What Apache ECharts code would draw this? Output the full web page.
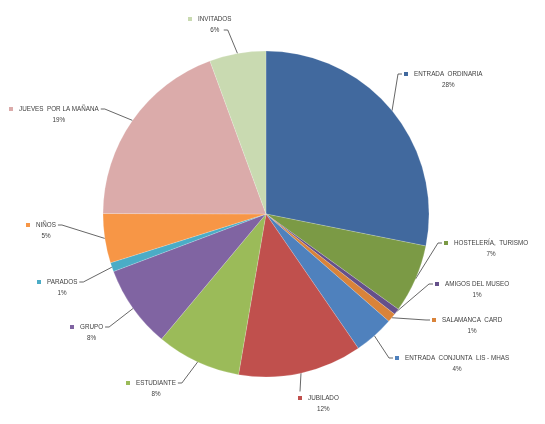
<!DOCTYPE html>
<html>
<head>
<meta charset="utf-8">
<script src="https://cdn.jsdelivr.net/npm/echarts@6/dist/echarts.min.js"></script>
<style>
  html, body { margin: 0; padding: 0; background: #fff; }
  #chart { width: 545px; height: 424px; }
</style>
</head>
<body>
<div id="chart"></div>
<script>
// categorías y valores (porcentaje)
const names = [
    'ENTRADA  ORDINARIA', 'HOSTELERÍA,  TURISMO', 'AMIGOS DEL MUSEO', 'SALAMANCA  CARD',
    'ENTRADA  CONJUNTA  LIS - MHAS', 'JUBILADO', 'ESTUDIANTE', 'GRUPO',
    'PARADOS', 'NIÑOS', 'JUEVES  POR LA MAÑANA', 'INVITADOS'
];
const values = [28.2, 6.8, 0.6, 0.9, 4.0, 12.3, 8.4, 8.2, 0.9, 4.9, 19.4, 5.6];
const colors = [
    '#41699E', '#7B9A45', '#65508A', '#D9833A',
    '#4F81BD', '#C0504D', '#9BBB59', '#8064A2',
    '#4BACC6', '#F79646', '#DBABAA', '#C9DAB1'
];

// posición de cada etiqueta: [izquierda del marcador, centro de la primera línea]
const labelAt = [
    [404, 74], [444, 243], [435, 284], [432, 320],
    [395, 358], [298, 398], [126, 383], [70, 327],
    [37, 282], [26, 225], [9, 109], [188, 19]
];
// lado por donde entra la línea guía
const labelSide = ['l', 'l', 'l', 'l', 'l', 't', 'r', 'r', 'r', 'r', 'r', 'r2'];

const total = values.reduce((a, b) => a + b, 0);
const labelFont = 'Arial, "Liberation Sans", sans-serif';

let data = names.map((n, i) => ({
    name: n,
    value: values[i],
    itemStyle: { color: colors[i] },
    label: { rich: { m: { width: 4, height: 4, backgroundColor: colors[i] } } }
}));

let myChart = echarts.init(document.getElementById('chart'), null, { renderer: 'canvas' });

let options = {
    backgroundColor: '#ffffff',
    animation: false,
    series: [
        {
            type: 'pie',
            center: [266, 214],
            radius: 163,
            startAngle: 90,
            clockwise: true,
            avoidLabelOverlap: false,
            data: data,
            itemStyle: { borderColor: 'rgba(255,255,255,0.35)', borderWidth: 0.5 },
            label: {
                show: true,
                position: 'outside',
                formatter: function (p) {
                    let pct = Math.round(p.value / total * 100);
                    return '{m|}{g|}{n|' + p.name + '}\n{p|' + pct + '%}';
                },
                rich: {
                    g: { width: 6, height: 4 },
                    n: {
                        fontFamily: labelFont,
                        fontSize: 6.3, color: '#404040', lineHeight: 11, align: 'left'
                    },
                    p: {
                        fontFamily: labelFont,
                        fontSize: 6.3, color: '#404040', lineHeight: 11, align: 'center',
                        padding: [0, 0, 0, 10]
                    }
                }
            },
            labelLine: {
                show: true,
                length: 5,
                length2: 5,
                lineStyle: { color: '#404040', width: 0.8 }
            },
            labelLayout: function (params) {
                let i = params.dataIndex;
                let lx = labelAt[i][0];
                let ly = labelAt[i][1];
                let w = params.labelRect.width;
                let top = ly - 5.5;
                let start = params.labelLinePoints ? params.labelLinePoints[0] : null;
                let out = { x: lx, y: top, align: 'left', verticalAlign: 'top' };
                if (start) {
                    let side = labelSide[i];
                    if (side === 'l') {
                        out.labelLinePoints = [start, [lx - 6, ly], [lx - 2, ly]];
                    } else if (side === 'r') {
                        out.labelLinePoints = [start, [lx + w + 6, ly], [lx + w + 2, ly]];
                    } else if (side === 'r2') {
                        let xr = lx + w / 2 + 14;
                        out.labelLinePoints = [start, [xr + 4, ly + 11], [xr, ly + 11]];
                    } else {
                        out.labelLinePoints = [start, [lx + 2, top - 1]];
                    }
                }
                return out;
            }
        }
    ]
};
myChart.setOption(options);
</script>
</body>
</html>
